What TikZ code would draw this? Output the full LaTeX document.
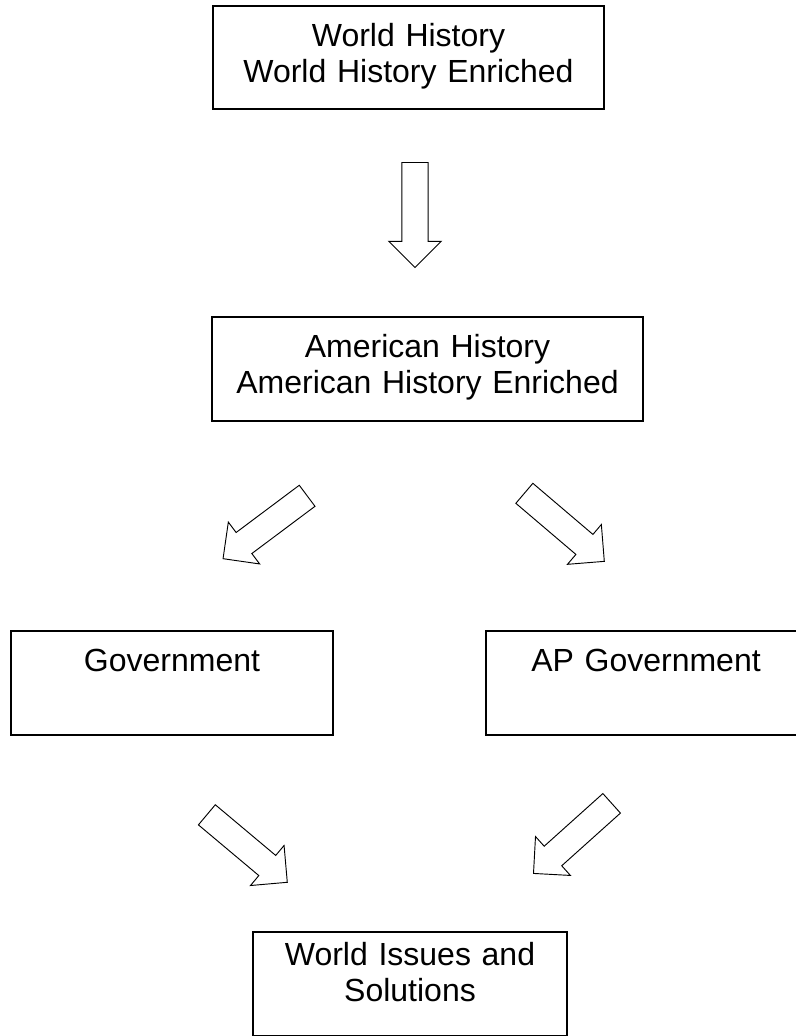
\documentclass[tikz,border=0pt]{standalone}
\usepackage{fontspec}
\setmainfont{Liberation Sans}
\usepackage{tikz}
\usetikzlibrary{shapes.arrows, positioning}

\begin{document}
\begin{tikzpicture}[x=0.75pt, y=-0.75pt,
    box/.style={rectangle, draw, line width=0.9pt, inner sep=0pt, align=center, font=\fontsize{24}{27}\selectfont, text height=30pt, text depth=48pt},
    blockarrow/.style={single arrow, draw, line width=0.7pt, inner xsep=0pt, inner ysep=9.5pt, minimum height=78.75pt, minimum width=39pt, single arrow head extend=9.75pt, anchor=tail}]

    \useasboundingbox (0,0) rectangle (796,1036);

    % World History box
    \node[box, text width=293.25pt, text depth=47.25pt] (world) at (408.5,57.5) {World History\\World History Enriched};

    % American History box
    \node[box, text width=323.25pt] (american) at (427.5,369) {American History\\American History Enriched};

    % Government boxes
    \node[box, text width=241.5pt] (gov) at (172,683) {Government};
    \node[box, text width=240pt] (apgov) at (646,683) {AP Government};

    % World Issues box
    \node[box, text width=235.5pt, text height=25pt, text depth=53pt] (issues) at (410,984) {World Issues and\\Solutions};

    % Block arrows
    \node[blockarrow, rotate=-90] (toamerican) at (415,162) {};
    \node[blockarrow, rotate=216.8] (togov) at (307.5,495.5) {};
    \node[blockarrow, rotate=-40.4] (toapgov) at (524,493) {};
    \node[blockarrow, rotate=-40] (govtoissues) at (206.5,814.5) {};
    \node[blockarrow, rotate=221.9] (apgovtoissues) at (612,803) {};

\end{tikzpicture}
\end{document}
